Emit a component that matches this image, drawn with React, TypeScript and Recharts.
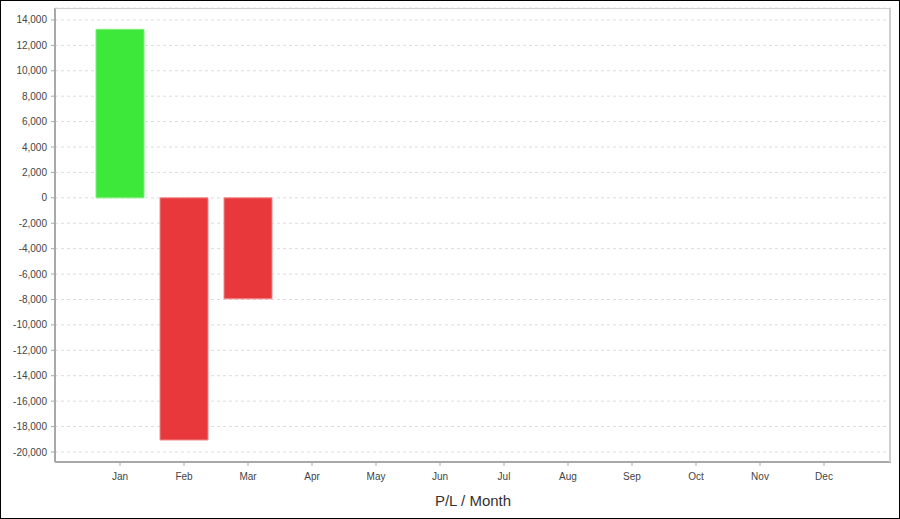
import React from 'react';
import { BarChart, Bar, XAxis, YAxis, CartesianGrid, Cell, Label } from 'recharts';

// month categories and P/L values
const months = ['Jan', 'Feb', 'Mar', 'Apr', 'May', 'Jun', 'Jul', 'Aug', 'Sep', 'Oct', 'Nov', 'Dec'];
const profit = [13260, -19060, -7950, null, null, null, null, null, null, null, null, null];
const yTicks = [14000, 12000, 10000, 8000, 6000, 4000, 2000, 0, -2000, -4000, -6000, -8000, -10000, -12000, -14000, -16000, -18000, -20000];

const data = months.map((m, i) => ({ month: m, pl: profit[i] }));

const tickStyle = { fontSize: 10, fill: '#444', fontFamily: 'Liberation Sans, Arial, sans-serif' };

const App: React.FC = () => {
  return (
    <div style={{ position: 'absolute', left: 0, top: 0, width: 900, height: 519, background: '#fff' }}>
      <BarChart width={900} height={519} data={data} margin={{ top: 8, right: 9, bottom: 0, left: 5 }}>
        <CartesianGrid vertical={false} stroke="#dcdcdc" strokeDasharray="3 3" />
        <XAxis
          dataKey="month"
          height={57}
          padding={{ left: 33, right: 35 }}
          axisLine={{ stroke: '#a8a8a8', strokeWidth: 2 }}
          tickLine={{ stroke: '#a8a8a8' }}
          tickSize={4}
          tickMargin={7}
          tick={tickStyle}
          interval={0}
        >
          <Label
            value="P/L / Month"
            position="insideBottom"
            offset={13}
            style={{ fontSize: 15, fill: '#333', fontFamily: 'Liberation Sans, Arial, sans-serif' }}
          />
        </XAxis>
        <YAxis
          width={50}
          domain={[-20790, 14940]}
          ticks={yTicks}
          allowDataOverflow
          axisLine={{ stroke: '#a8a8a8', strokeWidth: 2 }}
          tickLine={{ stroke: '#a8a8a8' }}
          tickSize={4}
          tickMargin={4}
          tick={tickStyle}
          tickFormatter={(v: number) => v.toLocaleString('en-US')}
        />
        <Bar dataKey="pl" barSize={48} isAnimationActive={false}>
          {data.map((d, i) => (
            <Cell
              key={i}
              fill={(d.pl ?? 0) >= 0 ? '#3de83a' : '#e8383c'}
              stroke={(d.pl ?? 0) >= 0 ? '#7ef07a' : '#f08a8c'}
              strokeWidth={1}
            />
          ))}
        </Bar>
      </BarChart>
      {/* light frame on top / right of plot area */}
      <div
        style={{
          position: 'absolute', left: 55, top: 8, width: 836, height: 454, boxSizing: 'border-box',
          borderTop: '1px solid #cfcfcf', borderRight: '2px solid #cfcfcf', pointerEvents: 'none',
        }}
      />
      {/* outer black border */}
      <div
        style={{
          position: 'absolute', left: 0, top: 0, width: 900, height: 519, boxSizing: 'border-box',
          border: '1px solid #000', pointerEvents: 'none',
        }}
      />
    </div>
  );
};

export default App;
